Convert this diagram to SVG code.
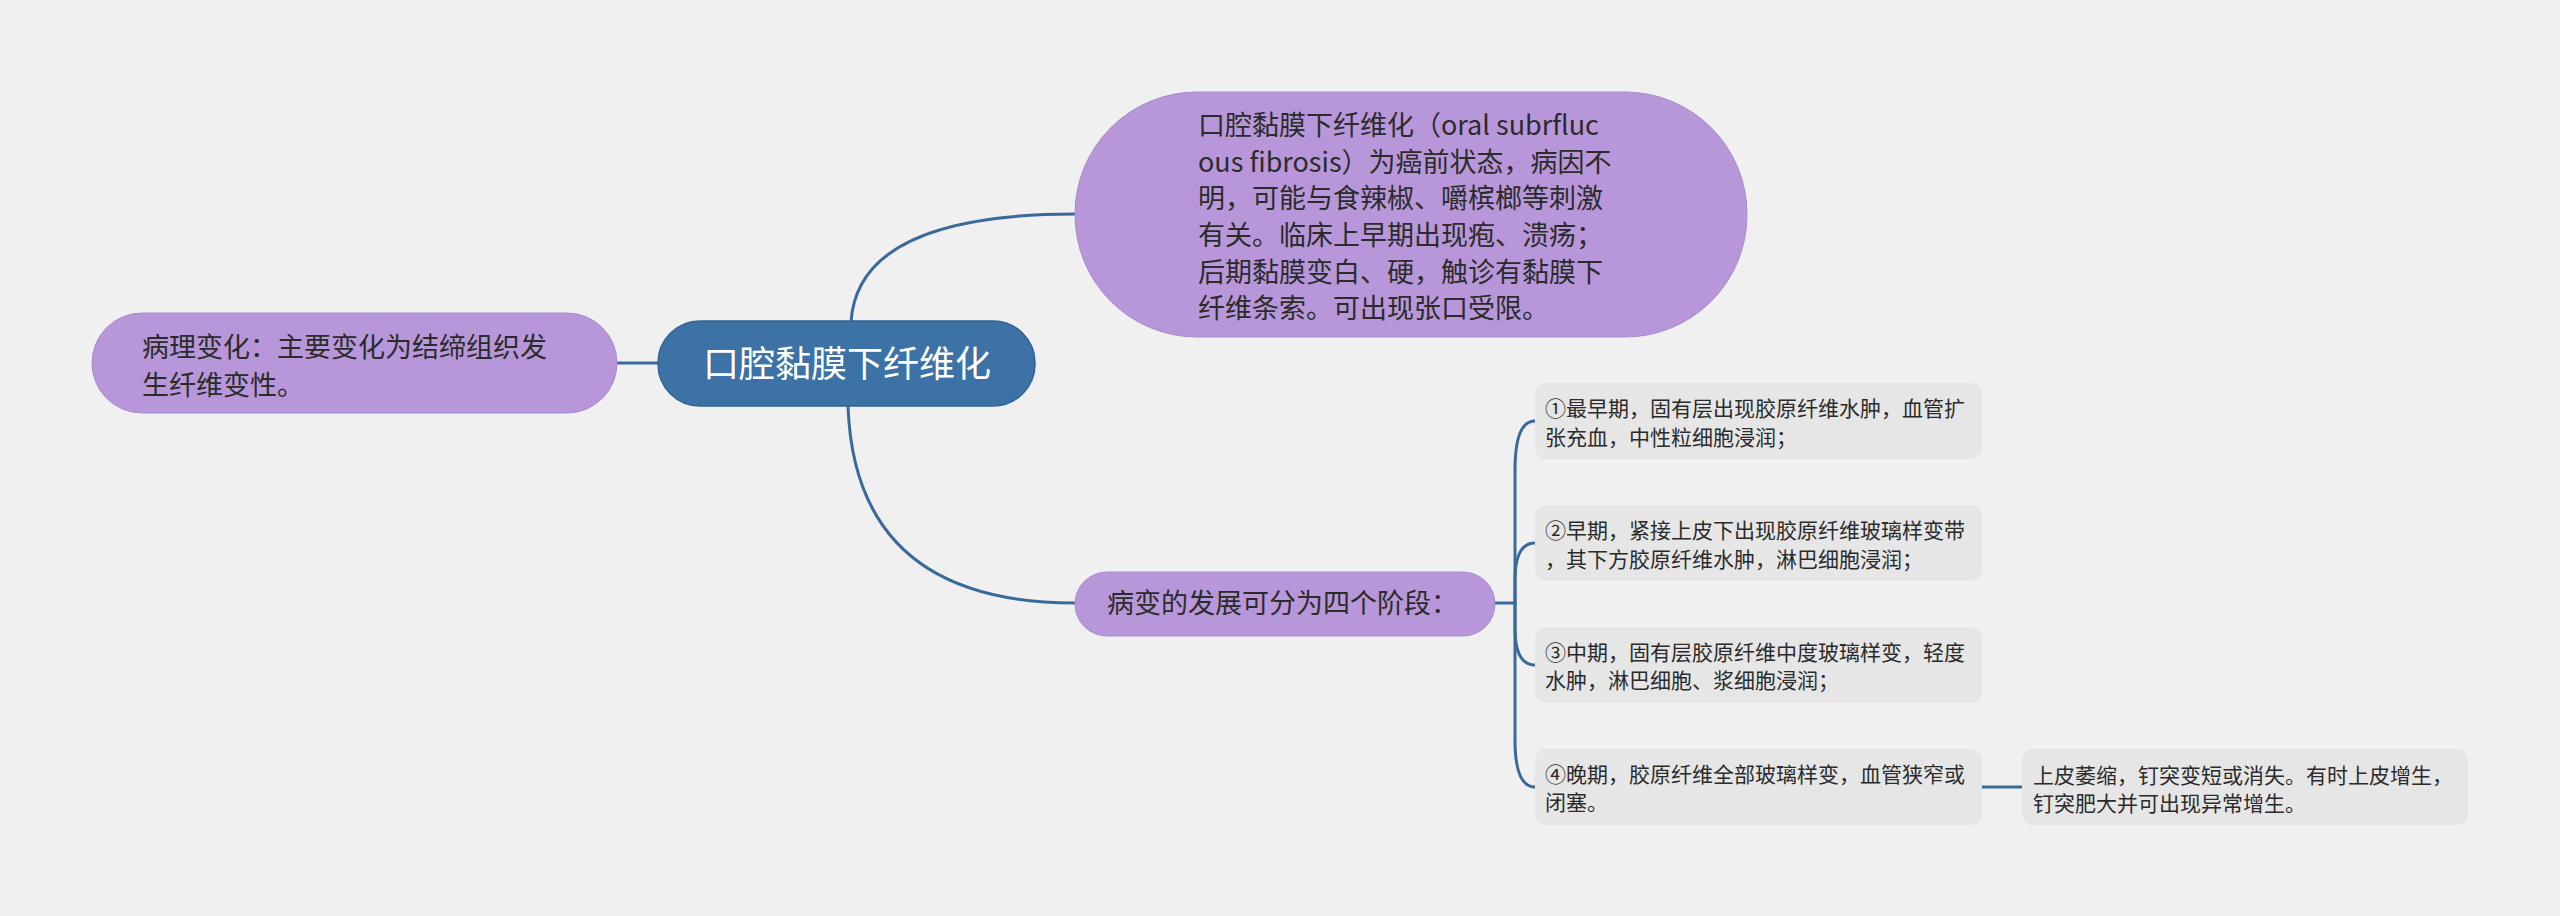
<svg xmlns="http://www.w3.org/2000/svg" width="2560" height="916" viewBox="0 0 2560 916">
<style>
.t{font-family:"Noto Sans CJK SC","Liberation Sans",sans-serif;fill:#2b2b2b}
.p{fill:#b797d9;stroke:#a98bcc;stroke-width:1}
.c{fill:#e6e6e6}
.l{fill:none;stroke:#3a6a99;stroke-width:3;stroke-linecap:round}
.f27{font-size:27px}
.f21{font-size:21px}
</style>
<rect x="0" y="0" width="2560" height="916" fill="#f0f0f0"/>
<g id="connectors">
<path class="l" d="M658,363 L617,363"/>
<path class="l" d="M851,322 Q858,214 1075,214"/>
<path class="l" d="M848,406 Q855,603 1075,603"/>
<path class="l" d="M1495,603 L1515,603"/>
<path class="l" d="M1515,603 L1515,470 Q1515,421 1535,421"/>
<path class="l" d="M1515,603 L1515,580 Q1515,543 1535,543"/>
<path class="l" d="M1515,603 L1515,628 Q1515,665 1535,665"/>
<path class="l" d="M1515,603 L1515,740 Q1515,787 1535,787"/>
<path class="l" d="M1982,787 L2022,787"/>
</g>
<g id="root">
<rect x="658" y="321" width="377" height="85" rx="42" fill="#3c72a5" stroke="#336394" stroke-width="1.5"/>
<text x="847" y="377" text-anchor="middle" style="font-family:'Noto Sans CJK SC','Liberation Sans',sans-serif;font-size:36px;fill:#ffffff">口腔黏膜下纤维化</text>
</g>
<g id="node-left">
<rect class="p" x="92" y="313" width="525" height="100" rx="50"/>
<text class="t f27"><tspan x="142" y="357">病理变化：主要变化为结缔组织发</tspan><tspan x="142" y="395">生纤维变性。</tspan></text>
</g>
<g id="node-top">
<rect class="p" x="1075" y="92" width="672" height="245" rx="122"/>
<text class="t f27"><tspan x="1198" y="135">口腔黏膜下纤维化（oral subrfluc</tspan><tspan x="1198" y="172">ous fibrosis）为癌前状态，病因不</tspan><tspan x="1198" y="208">明，可能与食辣椒、嚼槟榔等刺激</tspan><tspan x="1198" y="245">有关。临床上早期出现疱、溃疡；</tspan><tspan x="1198" y="282">后期黏膜变白、硬，触诊有黏膜下</tspan><tspan x="1198" y="318">纤维条索。可出现张口受限。</tspan></text>
</g>
<g id="node-stages">
<rect class="p" x="1075" y="572" width="420" height="64" rx="32"/>
<text class="t f27" x="1107" y="613">病变的发展可分为四个阶段：</text>
</g>
<g id="stage-1">
<rect class="c" x="1535" y="383" width="447" height="76" rx="11"/>
<text class="t f21"><tspan x="1545" y="416">①最早期，固有层出现胶原纤维水肿，血管扩</tspan><tspan x="1545" y="444.5">张充血，中性粒细胞浸润；</tspan></text>
</g>
<g id="stage-2">
<rect class="c" x="1535" y="505" width="447" height="76" rx="11"/>
<text class="t f21"><tspan x="1545" y="538">②早期，紧接上皮下出现胶原纤维玻璃样变带</tspan><tspan x="1545" y="566.5">，其下方胶原纤维水肿，淋巴细胞浸润；</tspan></text>
</g>
<g id="stage-3">
<rect class="c" x="1535" y="627" width="447" height="76" rx="11"/>
<text class="t f21"><tspan x="1545" y="660">③中期，固有层胶原纤维中度玻璃样变，轻度</tspan><tspan x="1545" y="688">水肿，淋巴细胞、浆细胞浸润；</tspan></text>
</g>
<g id="stage-4">
<rect class="c" x="1535" y="749" width="447" height="76" rx="11"/>
<text class="t f21"><tspan x="1545" y="782">④晚期，胶原纤维全部玻璃样变，血管狭窄或</tspan><tspan x="1545" y="810">闭塞。</tspan></text>
</g>
<g id="stage-4-detail">
<rect class="c" x="2022" y="749" width="446" height="76" rx="11"/>
<text class="t f21"><tspan x="2033" y="783">上皮萎缩，钉突变短或消失。有时上皮增生，</tspan><tspan x="2033" y="811">钉突肥大并可出现异常增生。</tspan></text>
</g>
</svg>
